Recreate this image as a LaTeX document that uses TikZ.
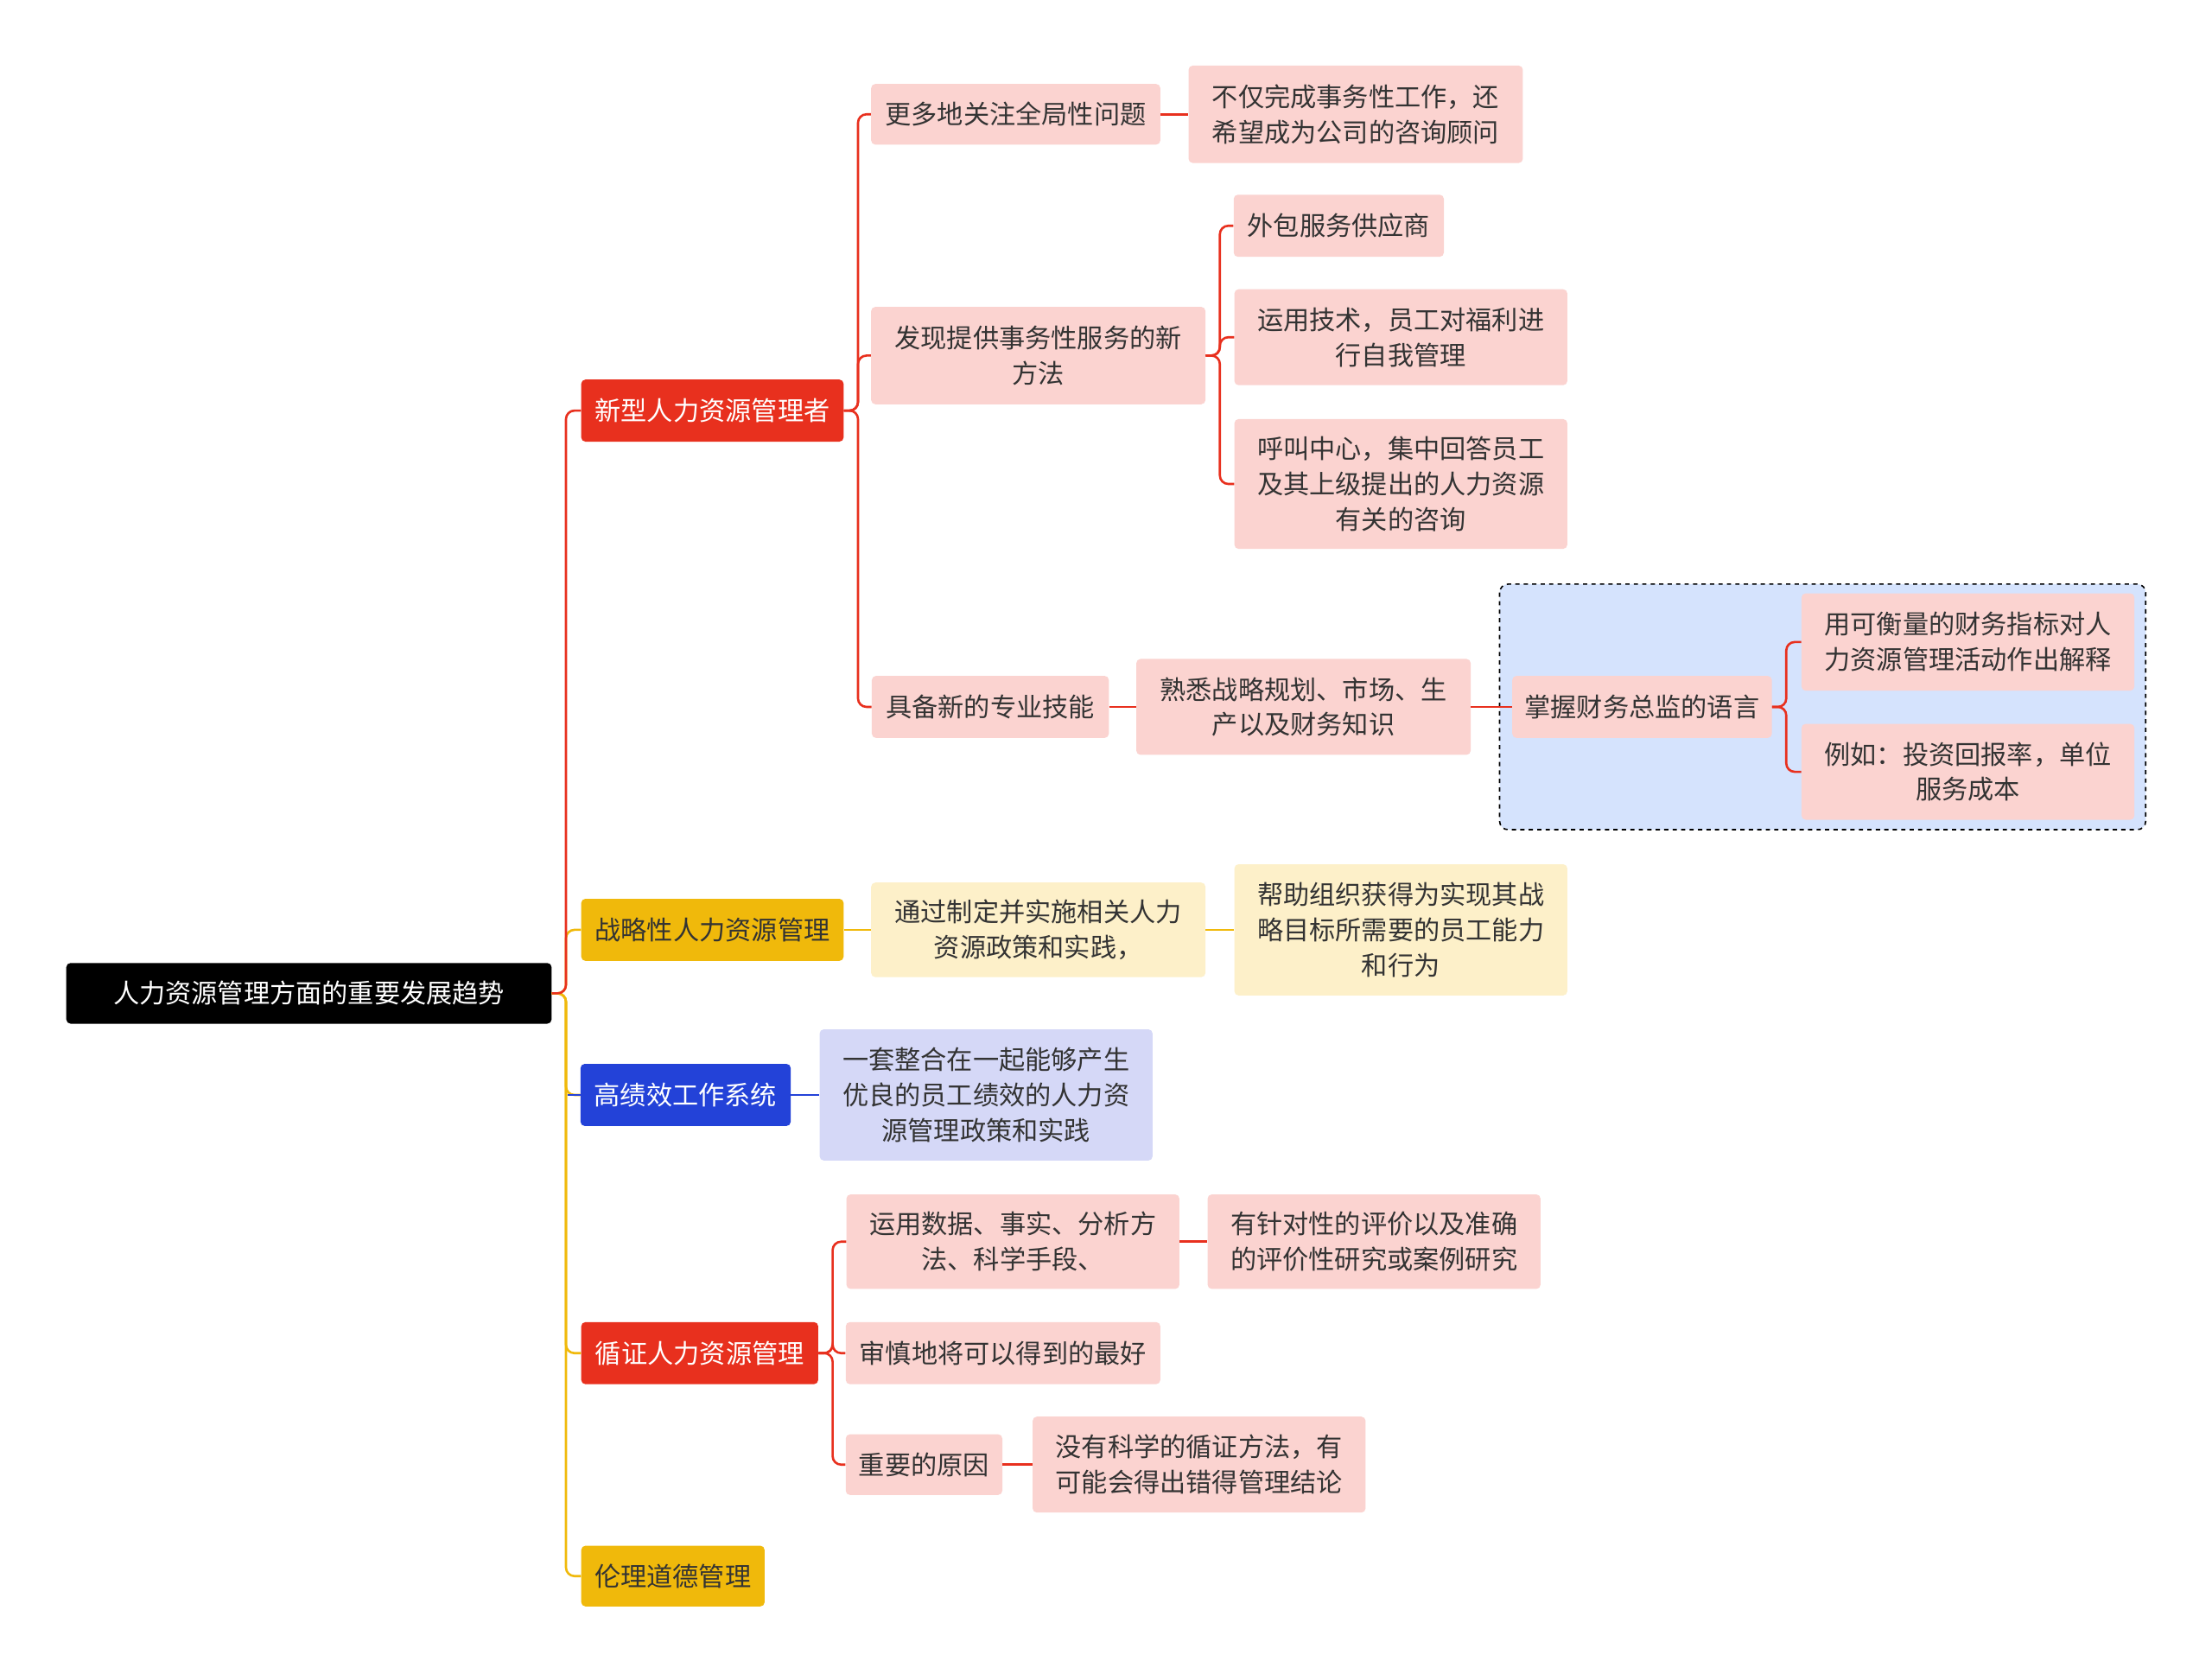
\documentclass[tikz,border=0pt]{standalone}
\usepackage{fontspec}
\setmainfont{Noto Sans CJK SC}
\begin{document}
\begin{tikzpicture}[x=1pt,y=-1pt,
  base/.style={rounded corners=3pt,align=center,inner sep=0pt,font=\fontsize{18.5}{25}\selectfont},
  bx/.style n args={2}{base,minimum width=#1,minimum height=#2},
  pk/.style={fill=pinkF,text=txt},
  yl/.style={fill=yelF,text=txt},
  bl/.style={fill=bluF,text=txt},
  ed/.style={draw=#1,line width=1.6pt,rounded corners=6pt}]
\definecolor{redM}{HTML}{E8301E}
\definecolor{yelM}{HTML}{F0B90B}
\definecolor{bluM}{HTML}{2342D8}
\definecolor{pinkF}{HTML}{FBD3D0}
\definecolor{yelF}{HTML}{FDF0C9}
\definecolor{bluF}{HTML}{D5D8F7}
\definecolor{txt}{HTML}{333333}
\definecolor{boxF}{HTML}{D5E3FD}
\useasboundingbox[fill=white] (0,0) rectangle (1568,1186);
% dashed group
\draw[fill=boxF,dashed,line width=1pt,rounded corners=6pt] (1063,414) rectangle (1521,588);
% nodes
\node[bx={344}{43},fill=black,text=white] (root) at (219,704) {人力资源管理方面的重要发展趋势};
\node[bx={186}{44},fill=redM,text=white] (n1) at (505,291) {新型人力资源管理者};
\node[bx={186}{44},fill=yelM,text=txt] (n2) at (505,659) {战略性人力资源管理};
\node[bx={149}{44},fill=bluM,text=white] (n3) at (486,776) {高绩效工作系统};
\node[bx={168}{44},fill=redM,text=white] (n4) at (496,959) {循证人力资源管理};
\node[bx={130}{43},fill=yelM,text=txt] (n5) at (477,1117) {伦理道德管理};
\node[bx={205}{43},pk] (a1) at (720,81) {更多地关注全局性问题};
\node[bx={237}{69},pk] (a1a) at (961,81) {不仅完成事务性工作，还\\希望成为公司的咨询顾问};
\node[bx={237}{69},pk] (a2) at (736,252) {发现提供事务性服务的新\\方法};
\node[bx={149}{44},pk] (b1) at (949,160) {外包服务供应商};
\node[bx={236}{68},pk] (b2) at (993,239) {运用技术，员工对福利进\\行自我管理};
\node[bx={236}{92},pk] (b3) at (993,343) {呼叫中心，集中回答员工\\及其上级提出的人力资源\\有关的咨询};
\node[bx={168}{44},pk] (a3) at (702,501) {具备新的专业技能};
\node[bx={237}{68},pk] (c1) at (924,501) {熟悉战略规划、市场、生\\产以及财务知识};
\node[bx={184}{44},pk] (c2) at (1164,501) {掌握财务总监的语言};
\node[bx={236}{69},pk] (d1) at (1395,455) {用可衡量的财务指标对人\\力资源管理活动作出解释};
\node[bx={236}{68},pk] (d2) at (1395,547) {例如：投资回报率，单位\\服务成本};
\node[bx={237}{67},yl] (e1) at (736,659) {通过制定并实施相关人力\\资源政策和实践，};
\node[bx={236}{93},yl] (e2) at (993,659) {帮助组织获得为实现其战\\略目标所需要的员工能力\\和行为};
\node[bx={236}{93},bl] (f1) at (699,776) {一套整合在一起能够产生\\优良的员工绩效的人力资\\源管理政策和实践};
\node[bx={236}{67},pk] (g1) at (718,880) {运用数据、事实、分析方\\法、科学手段、};
\node[bx={236}{67},pk] (g1a) at (974,880) {有针对性的评价以及准确\\的评价性研究或案例研究};
\node[bx={223}{44},pk] (g2) at (711,959) {审慎地将可以得到的最好};
\node[bx={111}{43},pk] (g3) at (655,1038) {重要的原因};
\node[bx={236}{68},pk] (g3a) at (850,1038) {没有科学的循证方法，有\\可能会得出错得管理结论};
% edges
\foreach \c in {n5,n4,n3,n2} \draw[ed=yelM] (root.east) -- ++(10,0) |- (\c.west);
\draw[ed=bluM] (n3.west) -- ++(-9,0);
\draw[ed=redM] (root.east) -- ++(10,0) |- (n1.west);
\foreach \c in {a1,a2,a3} \draw[ed=redM] (n1.east) -- ++(10,0) |- (\c.west);
\draw[ed=redM] (a1.east) -- (a1a.west);
\foreach \c in {b1,b2,b3} \draw[ed=redM] (a2.east) -- ++(10,0) |- (\c.west);
\draw[ed=redM] (a3.east) -- (c1.west);
\draw[ed=redM] (c1.east) -- (c2.west);
\foreach \c in {d1,d2} \draw[ed=redM] (c2.east) -- ++(10,0) |- (\c.west);
\draw[ed=yelM] (n2.east) -- (e1.west);
\draw[ed=yelM] (e1.east) -- (e2.west);
\draw[ed=bluM] (n3.east) -- (f1.west);
\foreach \c in {g1,g2,g3} \draw[ed=redM] (n4.east) -- ++(10,0) |- (\c.west);
\draw[ed=redM] (g1.east) -- (g1a.west);
\draw[ed=redM] (g3.east) -- (g3a.west);
\end{tikzpicture}
\end{document}
